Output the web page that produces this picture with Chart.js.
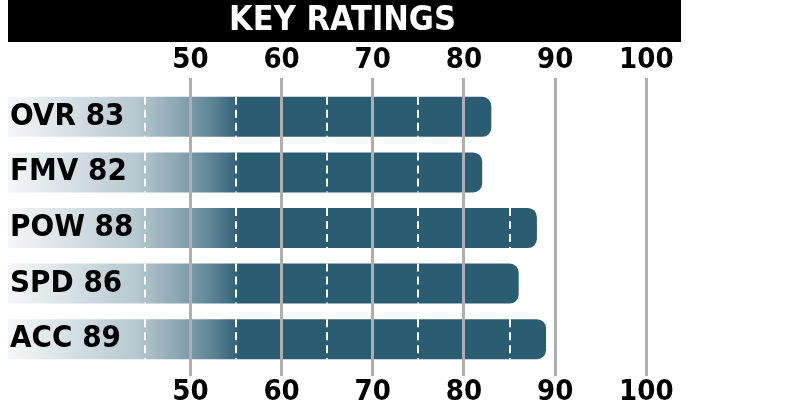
<!DOCTYPE html>
<html>
<head>
<meta charset="utf-8">
<script src="https://cdn.jsdelivr.net/npm/chart.js@4"></script>
<style>
  html, body { margin: 0; padding: 0; background: #fff; }
  #wrap { position: relative; width: 690px; height: 415px; }
</style>
</head>
<body>
<div id="wrap"><canvas id="ratings"></canvas></div>
<script>
const labels = ["OVR 83", "FMV 82", "POW 88", "SPD 86", "ACC 89"];
const ratings = [83, 82, 88, 86, 89];
const tickValues = [50, 60, 70, 80, 90, 100];
const dashValues = [45, 55, 65, 75, 85];

const FONT = "'DejaVu Sans Condensed', 'DejaVu Sans', sans-serif";
const TEAL = "#2b5d72";
const GRID = "#afafb3";

// black title strip behind the chart title
const titleBar = {
    id: "titleBar",
    beforeDraw(chart) {
        const ctx = chart.ctx;
        const t = chart.titleBlock;
        ctx.save();
        ctx.fillStyle = "#000";
        ctx.fillRect(chart.chartArea.left, t.top, chart.chartArea.right - chart.chartArea.left, t.height);
        ctx.restore();
    }
};

// white dashed guides inside each bar
const barDashes = {
    id: "barDashes",
    afterDatasetsDraw(chart) {
        const ctx = chart.ctx;
        const x = chart.scales.x;
        const meta = chart.getDatasetMeta(0);
        ctx.save();
        ctx.strokeStyle = "#fff";
        ctx.lineWidth = 2;
        ctx.setLineDash([8, 5]);
        meta.data.forEach(function(bar, i) {
            const top = bar.y - bar.height / 2;
            const bottom = bar.y + bar.height / 2;
            for (const v of dashValues) {
                if (v >= ratings[i] - 1) continue;
                const px = Math.round(x.getPixelForValue(v));
                ctx.beginPath();
                ctx.moveTo(px, top);
                ctx.lineTo(px, bottom);
                ctx.stroke();
            }
        });
        ctx.restore();
    }
};

function barFill(context) {
    const chart = context.chart;
    if (!chart.chartArea) return TEAL;
    const x = chart.scales.x;
    const x0 = x.getPixelForValue(30);
    const x1 = x.getPixelForValue(55.5);
    const g = chart.ctx.createLinearGradient(x0, 0, x1, 0);
    g.addColorStop(0, "#f4f7f8");
    g.addColorStop(0.55, "#b6c8d0");
    g.addColorStop(0.74, "#8aa5b2");
    g.addColorStop(0.9, "#557d8f");
    g.addColorStop(1, TEAL);
    return g;
}

const ctx = document.getElementById("ratings").getContext("2d");
const chart = new Chart(ctx, {
    type: "bar",
    data: {
        labels: labels,
        datasets: [{
            data: ratings,
            backgroundColor: barFill,
            borderWidth: 0,
            borderSkipped: "start",
            borderRadius: { topRight: 9, bottomRight: 9 },
            barPercentage: 0.72,
            categoryPercentage: 1,
            base: 30
        }]
    },
    options: {
        indexAxis: "y",
        responsive: true,
        maintainAspectRatio: false,
        animation: false,
        events: [],
        layout: { padding: { left: 4, right: 9, top: 0, bottom: 7 } },
        plugins: {
            legend: { display: false },
            tooltip: { enabled: false },
            title: {
                display: true,
                text: "KEY RATINGS",
                color: "#fff",
                font: { family: FONT, size: 34, weight: "bold", lineHeight: 42 / 34 },
                padding: 0
            }
        },
        scales: {
            x: {
                type: "linear",
                position: "bottom",
                min: 30,
                max: 103.8,
                afterBuildTicks: function(axis) {
                    axis.ticks = tickValues.map(v => ({ value: v }));
                },
                grid: {
                    z: 1,
                    color: GRID,
                    lineWidth: 3,
                    drawTicks: true,
                    tickLength: 9,
                    tickColor: GRID
                },
                border: { display: false },
                ticks: {
                    z: 1,
                    color: "#000",
                    padding: 1.5,
                    font: { family: FONT, size: 29, weight: "bold", lineHeight: 1 }
                }
            },
            xTop: {
                type: "linear",
                position: "top",
                min: 30,
                max: 103.8,
                afterBuildTicks: function(axis) {
                    axis.ticks = tickValues.map(v => ({ value: v }));
                },
                grid: {
                    z: 1,
                    drawOnChartArea: false,
                    color: GRID,
                    lineWidth: 3,
                    drawTicks: true,
                    tickLength: 11,
                    tickColor: GRID
                },
                border: { display: false },
                ticks: {
                    z: 1,
                    color: "#000",
                    padding: 3.5,
                    font: { family: FONT, size: 29, weight: "bold", lineHeight: 1 }
                }
            },
            y: {
                position: "left",
                grid: { display: false, drawTicks: false },
                border: { display: false },
                ticks: {
                    z: 2,
                    mirror: true,
                    padding: 2,
                    color: "#000",
                    font: { family: FONT, size: 31, weight: "bold", lineHeight: 1 }
                }
            }
        }
    },
    plugins: [titleBar, barDashes]
});
</script>
</body>
</html>
